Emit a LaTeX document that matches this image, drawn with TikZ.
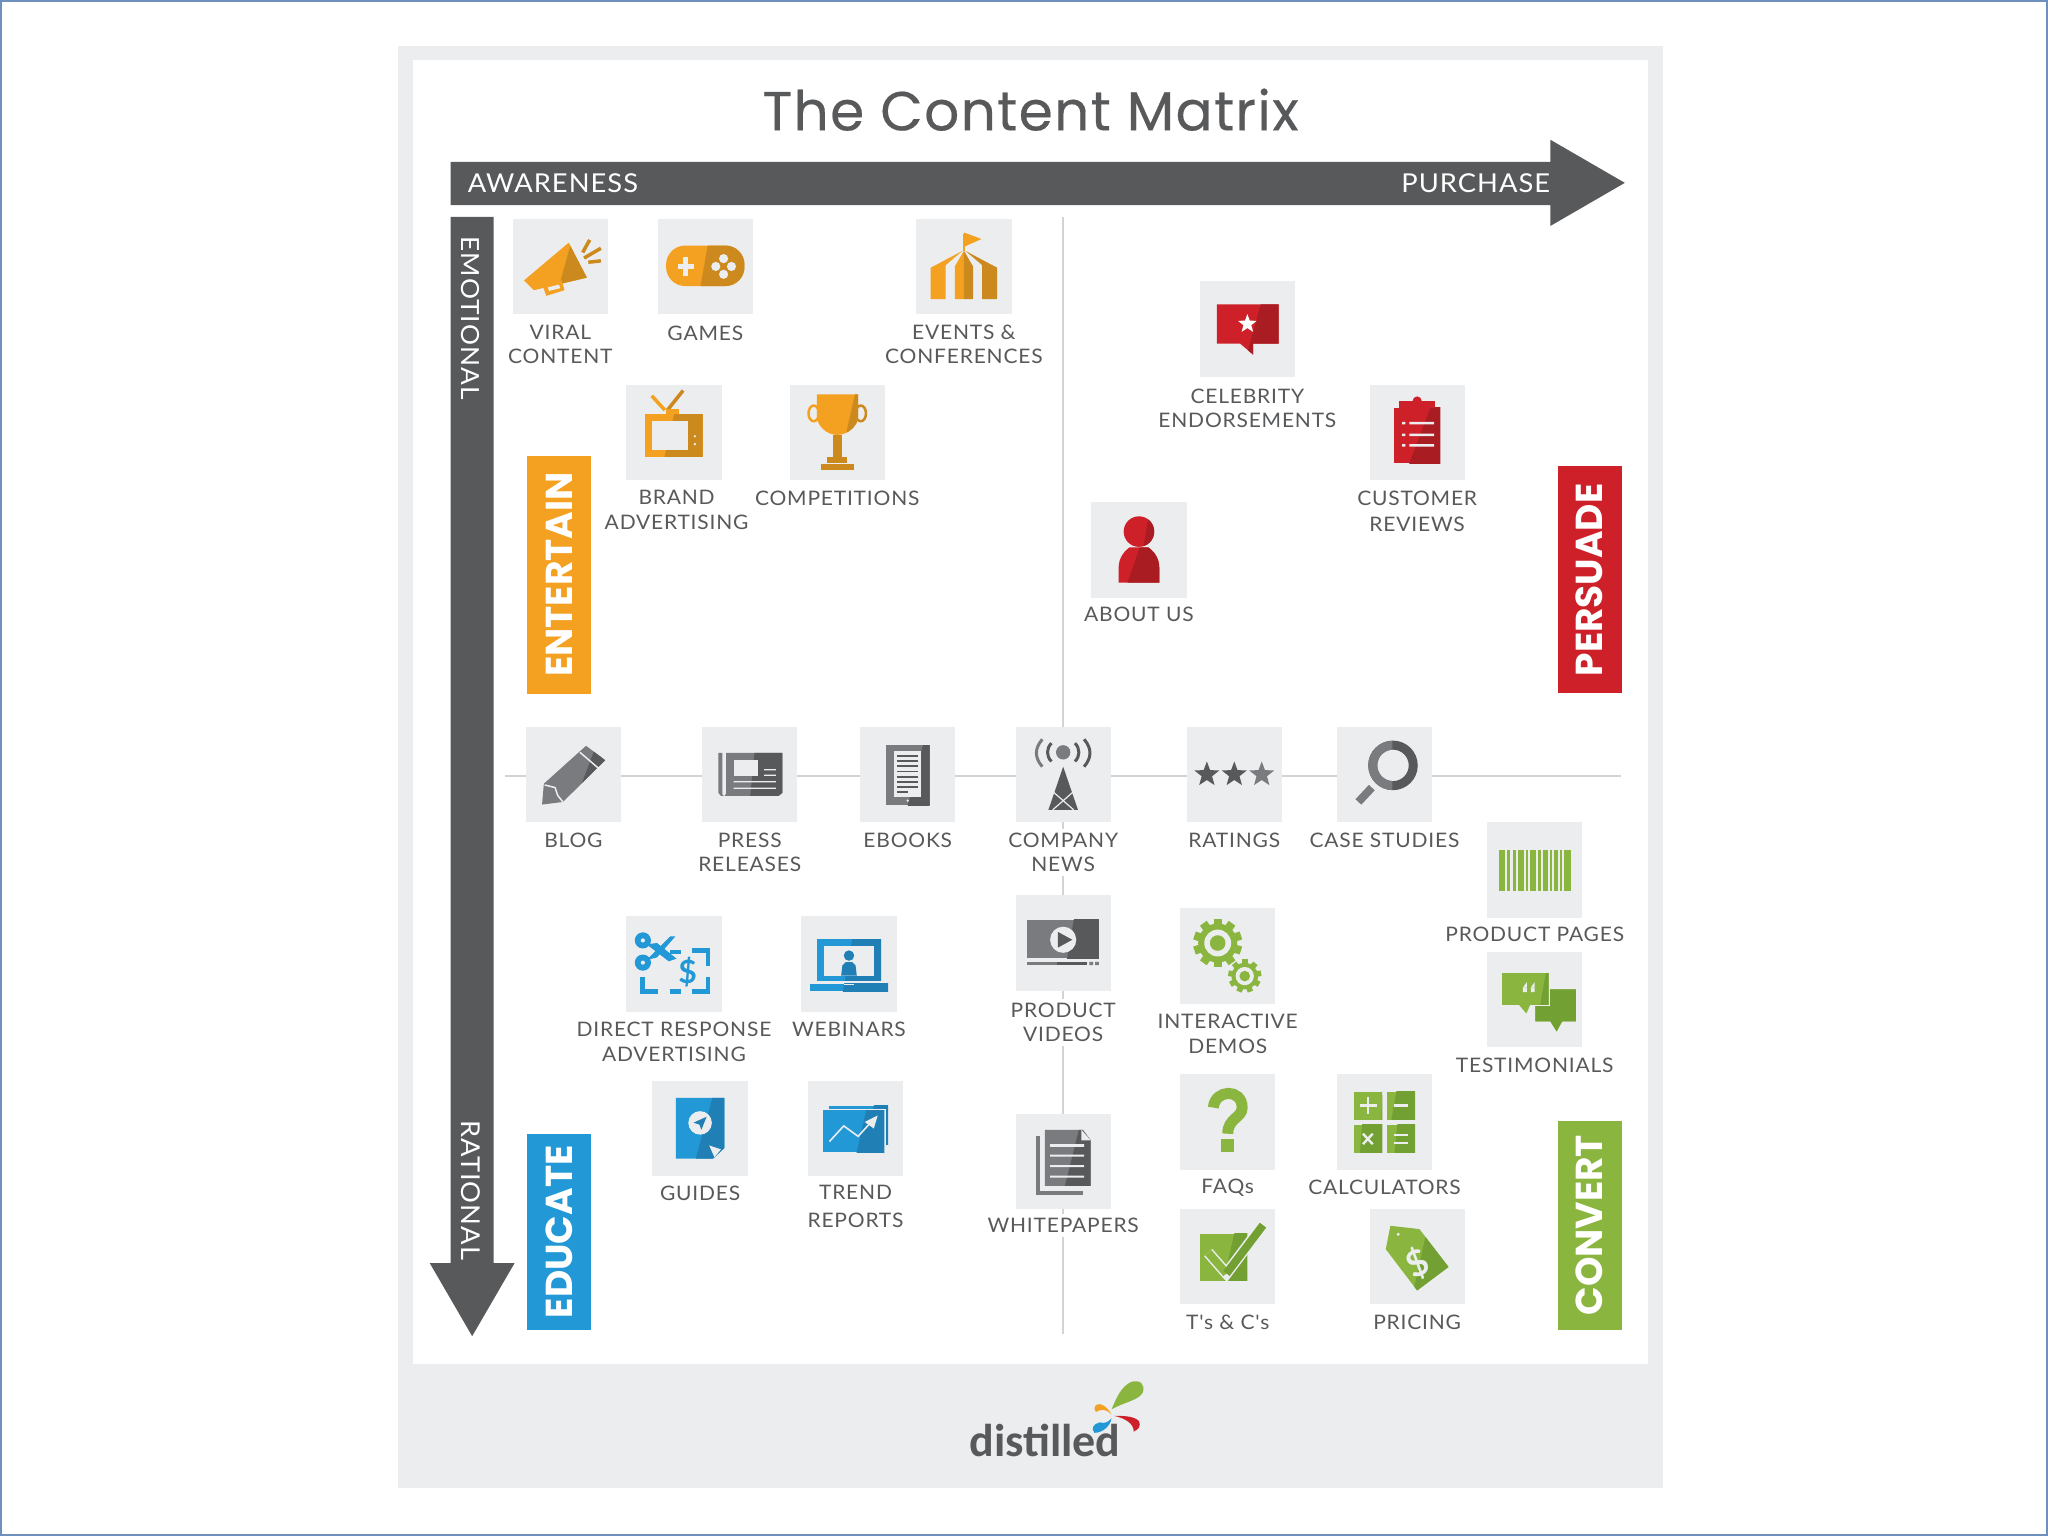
\documentclass[tikz,border=0pt]{standalone}
\usepackage{fontspec}
\setmainfont{Lato}
\newfontfamily\titlef{Poppins}[FakeBold=0.35,LetterSpace=2.5]
\newfontfamily\lblf{Lato}[FakeStretch=1.05,LetterSpace=4]
\newfontfamily\tabf{Poppins}
\newfontfamily\logof{Carlito}
\definecolor{ink}{HTML}{58595B}
\definecolor{panel}{HTML}{ECEDEF}
\definecolor{rulec}{HTML}{D1D3D4}
\definecolor{frame}{HTML}{6F90BE}
\definecolor{ob}{HTML}{F4A021}
\definecolor{od}{HTML}{CC8A1E}
\definecolor{rb}{HTML}{CE2029}
\definecolor{rd}{HTML}{A81C22}
\definecolor{bb}{HTML}{2299D6}
\definecolor{bd}{HTML}{2080B5}
\definecolor{gb}{HTML}{7A7B7E}
\definecolor{gd}{HTML}{58595B}
\definecolor{lb}{HTML}{8AB53E}
\definecolor{ld}{HTML}{73A032}
\tikzset{
  tilebox/.style={fill=panel,inner sep=0pt,minimum size=95.3pt},
  lbl/.style={anchor=north,inner sep=0pt,align=center,text=ink,font=\lblf\fontsize{20}{24.5}\selectfont},
  lblw/.style={lbl,fill=white,inner ysep=4pt,inner xsep=2pt,yshift=4pt},
  tabbox/.style={minimum height=64pt,inner sep=0pt,text=white,rotate=90,font=\tabf\bfseries\fontsize{37.5}{37.5}\selectfont},
  axistext/.style={text=white,inner sep=0pt,font=\lblf\fontsize{26}{26}\selectfont},
  axisline/.style={draw=rulec,line width=2pt},
}
\newcommand\duo[5]{\fill[#1] #5; \begin{scope}\clip #5; \fill[#2] (#3,-40) -- (40,-40) -- (40,40) -- (#4,40) -- cycle;\end{scope}}
\newcommand\tile[7]{%
  \node[tilebox] (t#1) at (#2,#3) {};
  \begin{scope}[shift={(#2,#3)}]#7\end{scope}
  \node[lbl] (l#1) at (#4,{#5-5.5}) {#6};}
\newcommand\tilew[7]{%
  \node[tilebox] (t#1) at (#2,#3) {};
  \begin{scope}[shift={(#2,#3)}]#7\end{scope}
  \node[lblw] (l#1) at (#4,{#5-5.5}) {#6};}
\newcommand\starp[4]{\fill[#4,shift={(#1,#2)}] (-90:#3) -- (-54:{.42*#3}) -- (-18:#3) -- (18:{.42*#3}) -- (54:#3) -- (90:{.42*#3}) -- (126:#3) -- (162:{.42*#3}) -- (198:#3) -- (234:{.42*#3}) -- cycle;}
\newcommand\cog[5]{% x y r teeth colour
  \foreach \a in {1,...,#4}{\fill[#5,shift={(#1,#2)},rotate={\a*360/#4}] ({-.17*#3},{-#3}) rectangle ({.17*#3},{-.7*#3});}
  \fill[#5] (#1,#2) circle ({.8*#3});
  \fill[panel] (#1,#2) circle ({.55*#3});
  \fill[#5] (#1,#2) circle ({.32*#3});}
% ---------- icons (units: reference px at 1568 wide, origin at the tile centre)
\newcommand\icoViral{\begin{scope}[scale=1.07]%
  \duo{ob}{od}{14}{-8}{(-26,10) -- (6,-17) -- (19,8) -- (-19,17) -- cycle}
  \fill[ob] (-13,13) -- (1,10) -- (3,17) -- (-10,21) -- cycle;
  \fill[panel] (-9,15) -- (-1,13) -- (0,15.5) -- (-8,17.5) -- cycle;
  \draw[od,line width=3.5pt] (21,-19) -- (16,-10) (29,-13) -- (17,-6) (29,-4) -- (20,-3);\end{scope}}
\newcommand\icoGames{%
  \duo{ob}{od}{6}{-8}{(-30,-16) [rounded corners=19pt] -- (30,-16) -- (30,15) -- (-30,15) -- cycle [sharp corners]}
  \draw[panel,line width=5pt] (-21,0) -- (-9,0) (-15,-7) -- (-15,7);
  \foreach \p/\q in {14/-6,14/6,8/0,20/0}{\fill[panel] (\p,\q) circle (3.5);}}
\newcommand\icoEvents{%
  \draw[ob,line width=1.5pt] (0,-25) -- (0,-12);
  \fill[ob] (0,-26) -- (13.5,-21) -- (0,-15) -- cycle;
  \fill[ob] (-25.5,25) -- (-25.5,1) -- (-1,-12) -- (-14,-1) -- (-14,25) -- cycle;
  \fill[ob] (-7,25) -- (-7,0) -- (0,-12) -- (0,25) -- cycle;
  \fill[od] (0,25) -- (0,-12) -- (7,0) -- (7,25) -- cycle;
  \fill[od] (14,25) -- (14,-1) -- (1,-12) -- (25.5,1) -- (25.5,25) -- cycle;}
\newcommand\icoTV{%
  \draw[ob,line width=3.5pt] (-17,-28) -- (-7,-17);
  \draw[od,line width=3.5pt] (7,-32) -- (-5,-17);
  \fill[ob] (-6,-18) rectangle (4,-14);
  \duo{ob}{od}{6}{-12}{(-22,-14) rectangle (22,18.6)}
  \fill[panel] (-16.8,-8.7) rectangle (10.6,13.5);
  \fill[panel] (16,3) circle (1) (16,9) circle (1);}
\newcommand\icoTrophy{%
  \draw[ob,line width=2.5pt] (-18,-14.5) ellipse (4 and 6);
  \draw[od,line width=2.5pt] (18,-14.5) ellipse (4 and 6);
  \duo{ob}{od}{16}{-2}{(-15.5,-29) -- (16,-29) -- (16,-12) .. controls (16,-5) and (8,2) .. (0,2) .. controls (-8,2) and (-15.5,-5) .. (-15.5,-12) -- cycle}
  \fill[od] (-3.5,2) rectangle (3.5,18.6);
  \fill[od] (-7.5,18.6) rectangle (7.5,23.7);
  \fill[od] (-12.5,24.5) rectangle (12.5,29);}
\newcommand\icoCeleb{%
  \duo{rb}{rd}{16}{-6}{(-23.4,-19) -- (24,-19) -- (24,11) -- (4.4,11) -- (4.4,19.5) -- (-5.6,11) -- (-23.4,11) -- cycle}
  \starp{0}{-4}{7.5}{white}}
\newcommand\icoCustomer{%
  \duo{rb}{rd}{18}{-12}{(-17.8,-19) rectangle (17.8,23.7)}
  \fill[rb] (-14,-24) rectangle (14,-19);
  \fill[rb] (0,-24) circle (3.5);
  \fill[panel] (-6,-8) rectangle (13,-6) (-6,1) rectangle (13,3) (-6,9) rectangle (13,11);
  \fill[panel] (-11.5,-8) rectangle (-9,-6) (-11.5,1) rectangle (-9,3) (-11.5,9) rectangle (-9,11);}
\newcommand\icoAbout{%
  \duo{rb}{rd}{10}{-4}{(0,-14) circle (11.7)}
  \duo{rb}{rd}{14}{-14}{(-15.6,25) -- (-15.6,14) .. controls (-15.6,5) and (-10,0) .. (-7,-2) -- (7,-2) .. controls (10,0) and (15.6,5) .. (15.6,14) -- (15.6,25) -- cycle}}
\newcommand\icoBlog{%
  \duo{gb}{gd}{24}{-6}{(9.7,-22) -- (24.3,-11) -- (-8,21) -- (-24,23) -- (-22.6,7) -- cycle}
  \draw[panel,line width=1.5pt] (5,-17) -- (19,-5);
  \draw[panel,line width=1.5pt] (-22,8) -- (-14,10) -- (-12,16) -- (-8,21);}
\newcommand\icoPress{%
  \fill[gb] (-24,-16.6) rectangle (-21,14) .. controls (-21,16) .. (-19,16.4) -- (-22,16.4) -- (-24,14) -- cycle;
  \duo{gb}{gd}{6}{-2}{(-18,-16.6) -- (25,-16.6) -- (25,14) -- (22,16.4) -- (-19,16.4) -- (-18,14) -- cycle}
  \fill[panel] (-12.3,-11.5) rectangle (6.7,1.3);
  \fill[panel] (11,-4.2) rectangle (20,-3.2) (11,0) rectangle (20,1);
  \fill[panel] (-12.3,5) rectangle (20,6) (-12.3,10) rectangle (20,11);}
\newcommand\icoEbook{%
  \duo{gb}{gd}{16}{-4}{(-16.8,-22.4) rectangle (16.8,23.5)}
  \fill[panel] (-10.5,-18) rectangle (10.5,17);
  \foreach \q in {-15,-11,-7,-3,1,5,9}{\fill[gd] (-8,\q) rectangle (8,{\q+1.3});}
  \fill[gd] (-8,12.5) rectangle (0,13.8);
  \fill[panel] (0,20) circle (1);}
\newcommand\icoCompany{%
  \fill[gb] (0,-17) circle (5.5);
  \draw[gd,line width=3pt] (-9,-24) .. controls (-13,-20) and (-13,-14) .. (-9,-10);
  \draw[gd,line width=3pt] (9,-24) .. controls (13,-20) and (13,-14) .. (9,-10);
  \draw[gb,line width=3pt] (-16,-27) .. controls (-22,-20) and (-22,-13) .. (-16,-6);
  \draw[gd,line width=3pt] (16,-27) .. controls (22,-20) and (22,-13) .. (16,-6);
  \fill[gd] (0,-6) -- (11.3,27) -- (-11.3,27) -- cycle;
  \draw[panel,line width=1.2pt] (-8,13) -- (8,27) (8,13) -- (-8,27);}
\newcommand\icoRatings{%
  \starp{-21}{0}{10}{gd}\starp{0}{0}{10}{gd}\starp{21}{0}{10}{gb}}
\newcommand\icoCase{%
  \draw[gd,line width=9pt] (6.5,-7) circle (15.5);
  \begin{scope}\clip (-30,-30) rectangle (6,14);\draw[gb,line width=9pt] (6.5,-7) circle (15.5);\end{scope}
  \draw[gb,line width=8pt] (-9.7,10) -- (-20,21);}
\newcommand\icoBar{%
  \foreach \p/\w in {-27.5/5,-21/2,-17/2.5,-12.5/4,-7/2,-3.5/4.5,2.5/2,6/4,11.5/2,15/3,19.5/1.5,22.5/5}{\fill[lb] (\p,-15.5) rectangle ({\p+\w},16);}}
\newcommand\icoDirect{%
  \fill[bb] (-23.8,-18) circle (6.2) (-23.8,-1) circle (6.2);
  \fill[panel] (-23.8,-18) circle (1.6) (-23.8,-1) circle (1.6);
  \fill[bb] (-21,-3) -- (-3,-21) -- (1,-21) -- (-13,-5) -- cycle;
  \fill[bb] (-21,-15) -- (-13,-16) -- (2,-4) -- (-4,-2) -- cycle;
  \draw[bb,line width=4.6pt] (-3,-9) -- (5.5,-9);
  \draw[bb,line width=4.6pt] (14,-10.5) -- (26,-10.5) -- (26,1.3);
  \draw[bb,line width=4.6pt] (26,10) -- (26,21) -- (14,21);
  \draw[bb,line width=4.6pt] (5.5,21) -- (-3,21);
  \draw[bb,line width=4.6pt] (-12,21) -- (-24,21) -- (-24,10);
  \node[text=bb,inner sep=0pt,font=\fontsize{32}{32}\selectfont\bfseries] (dlr) at (10.5,6.4) {\$};}
\newcommand\icoWebinar{%
  \duo{bb}{bd}{6}{-8}{(-24.6,-19) rectangle (24.6,12.8)}
  \fill[panel] (-19.4,-14) rectangle (19.4,9);
  \fill[bd] (0,-6.4) circle (4);
  \fill[bd] (-6,9) -- (-5,1) -- (-2.5,-1.3) -- (2.5,-1.3) -- (5,1) -- (6,9) -- cycle;
  \duo{bb}{bd}{6}{-8}{(-30,15) rectangle (30,21)}
  \fill[panel] (-3.5,15) rectangle (3.5,16.5);}
\newcommand\icoVideo{%
  \duo{gb}{gd}{12}{-2}{(-27.4,-18) rectangle (27.4,11.5)}
  \fill[gb] (-27.4,14.5) rectangle (-5,17);
  \fill[gd] (-5,14.5) rectangle (18,17);
  \fill[gb] (20,14.5) rectangle (23,17) (24.5,14.5) rectangle (27.4,17);
  \fill[panel] (0,-2.5) circle (10);
  \fill[gd] (-4,-8.5) -- (7,-2.5) -- (-4,3.5) -- cycle;}
\newcommand\icoGears{\cog{-7.7}{-10}{18.7}{10}{lb}\cog{13}{15.3}{12.7}{9}{lb}}
\newcommand\icoTesti{%
  \duo{lb}{ld}{2}{-14}{(0.6,-7.6) -- (31.6,-7.6) -- (31.6,17) -- (21,17) -- (16.8,24.7) -- (12,17) -- (0.6,17) -- cycle}
  \fill[panel] (-26,-21) rectangle (11.6,5.3);
  \fill[panel] (-12,5) -- (-6.4,12.5) -- (-3,5) -- cycle;
  \duo{lb}{ld}{12}{-2}{(-25,-20) -- (10.6,-20) -- (10.6,4.3) -- (-3.5,4.3) -- (-6.4,11) -- (-12,4.3) -- (-25,4.3) -- cycle}
  \fill[panel] (-9,-9) rectangle (-6,-5.5) (-3,-9) rectangle (0,-5.5);
  \fill[panel] (-9,-9) -- (-6,-13) -- (-6,-9) -- cycle (-3,-9) -- (0,-13) -- (0,-9) -- cycle;}
\newcommand\icoGuides{%
  \duo{bb}{bd}{14}{-8}{(-18.5,-23.5) -- (18.5,-23.5) -- (18.5,15) -- (10,23) -- (-18.5,23) -- cycle}
  \fill[panel] (0,-4.3) circle (9);
  \fill[bd] (5,-9) -- (1,1) -- (-0.5,-3) -- (-5,-4.5) -- cycle;
  \fill[panel] (7,13) -- (16,16) -- (11,22) -- cycle;}
\newcommand\icoTrend{%
  \duo{bb}{bd}{18}{4}{(-20,-17.6) rectangle (25,12.5)}
  \fill[panel] (-26,-15) rectangle (23,19);
  \duo{bb}{bd}{14}{-4}{(-25,-14) rectangle (22,18)}
  \draw[panel,line width=1.6pt] (-20,10) -- (-9,-2) -- (2,6) -- (12,-5);
  \fill[panel] (17,-10) -- (14,0) -- (7,-5) -- cycle;}
\newcommand\icoWhite{%
  \fill[gb] (-21,-19) rectangle (15,26);
  \fill[panel] (-17.5,-20) rectangle (16,22.5);
  \duo{gb}{gd}{16}{-4}{(-14,-24) -- (15,-24) -- (21,-16) -- (21,19) -- (-14,19) -- cycle}
  \fill[panel] (14,-24) -- (21,-16) -- (14,-16) -- cycle;
  \fill[panel] (-10,-13) rectangle (16,-11) (-10,-5) rectangle (16,-3.4) (-10,3) rectangle (16,4.6) (-10,11) rectangle (16,12.6);}
\newcommand\icoFaq{%
  \draw[lb,line width=11pt] (-11,-11) .. controls (-10,-25) and (11,-26) .. (11,-11) .. controls (11,-3) and (0,-3) .. (0,9);
  \fill[lb] (-5,13) rectangle (5,23);}
\newcommand\icoCalc{%
  \duo{lb}{ld}{-1}{-4}{(-23.4,-23) rectangle (-1.7,-1.8)}
  \duo{lb}{ld}{12}{-2}{(1.7,-23) rectangle (23.4,-1.8)}
  \duo{lb}{ld}{-14}{-20}{(-23.4,2) rectangle (-1.7,23.4)}
  \duo{lb}{ld}{14}{6}{(1.7,2) rectangle (23.4,23.4)}
  \draw[panel,line width=2.4pt] (-19,-12.5) -- (-6,-12.5) (-12.5,-19) -- (-12.5,-6);
  \draw[panel,line width=2.4pt] (7,-12.5) -- (18,-12.5);
  \draw[panel,line width=2.4pt] (-16.5,9) -- (-9,17) (-9,9) -- (-16.5,17);
  \draw[panel,line width=2.4pt] (7,10) -- (18,10) (7,16) -- (18,16);}
\newcommand\icoTC{%
  \duo{lb}{ld}{10}{-8}{(-21,-17.6) rectangle (15,18.6)}
  \draw[panel,line width=11pt] (-15,-3) -- (-1,13) -- (26,-23);
  \draw[lb,line width=8pt] (-15,-3) -- (-1,13);
  \draw[ld,line width=8pt] (-1,13) -- (27,-24);}
\newcommand\icoPrice{%
  \duo{lb}{ld}{12}{-6}{(-20.5,-23.5) -- (1.7,-21) -- (24,8) -- (0,26) -- (-24,-5.6) -- cycle}
  \fill[panel] (-14.5,-17) circle (1.3);
  \node[text=panel,inner sep=0pt,rotate=25,font=\bfseries\fontsize{36}{36}\selectfont] (dlr2) at (0,5) {\$};}
\begin{document}
\begin{tikzpicture}[x=1.30612pt,y=-1.30612pt]
\useasboundingbox (0,0) rectangle (1568,1176);
\fill[white] (0,0) rectangle (1568,1176);
\draw[frame,line width=2pt] (0.7,0.7) rectangle (1567.3,1175.3);
\fill[panel] (305,35) rectangle (1273,1139);
\fill[white] (316,46) rectangle (1262,1044);
\node[text=ink,inner sep=0pt,font=\titlef\fontsize{55}{55}\selectfont] (title) at (789,84) {The Content Matrix};
% axes
\coordinate (hL) at (387,594); \coordinate (hR) at (1241,594);
\coordinate (vT) at (813.5,166); \coordinate (vB) at (813.5,1021);
\draw[axisline] (hL) -- (hR);
\draw[axisline] (vT) -- (vB);
\fill[ink] (345,124) -- (1187,124) -- (1187,107) -- (1244,140) -- (1187,173) -- (1187,157) -- (345,157) -- cycle;
\fill[ink] (345,166) -- (378,166) -- (378,967) -- (394,967) -- (361.5,1023) -- (329,967) -- (345,967) -- cycle;
\node[axistext,anchor=west] (awareness) at (358,140) {AWARENESS};
\node[axistext,anchor=east] (purchase) at (1187,140) {PURCHASE};
\node[axistext,anchor=west,rotate=-90,font=\lblf\fontsize{25}{25}\selectfont] (emotional) at (360.5,181) {EMOTIONAL};
\node[axistext,anchor=east,rotate=-90] (rational) at (360.5,965) {RATIONAL};
% tabs
\node[tabbox,fill=ob,minimum width=238pt] (entertain) at (428,440) {ENTERTAIN\hspace{8pt}};
\node[tabbox,fill=rb,minimum width=227pt] (persuade) at (1217,444) {PERSUADE\hspace{6.5pt}};
\node[tabbox,fill=bb,minimum width=196pt] (educate) at (428,943) {EDUCATE\hspace{5pt}};
\node[tabbox,fill=lb,minimum width=209pt] (convert) at (1217,938) {CONVERT\hspace{9pt}};
% tiles
\tile{viral}{429}{204}{429}{254}{VIRAL\\CONTENT}{\icoViral}
\tile{games}{540}{204}{540}{255}{GAMES}{\icoGames}
\tile{events}{738}{204}{738}{254}{EVENTS \&\\CONFERENCES}{\icoEvents}
\tile{brand}{516}{331}{518}{381}{BRAND\\ADVERTISING}{\icoTV}
\tile{compet}{641}{331}{641}{381}{COMPETITIONS}{\icoTrophy}
\tile{celeb}{955}{252}{955}{303}{CELEBRITY\\ENDORSEMENTS}{\icoCeleb}
\tile{cust}{1085}{331}{1085}{381}{CUSTOMER\\[2pt]REVIEWS}{\icoCustomer}
\tile{about}{872}{421}{872}{470}{ABOUT US}{\icoAbout}
\tile{blog}{439}{593}{439}{643}{BLOG}{\icoBlog}
\tile{press}{574}{593}{574}{643}{PRESS\\RELEASES}{\icoPress}
\tile{ebooks}{695}{593}{695}{643}{EBOOKS}{\icoEbook}
\tilew{company}{814}{593}{814}{643}{COMPANY\\NEWS}{\icoCompany}
\tile{ratings}{945}{593}{945}{643}{RATINGS}{\icoRatings}
\tile{case}{1060}{593}{1060}{643}{CASE STUDIES}{\icoCase}
\tile{ppages}{1175}{666}{1175}{715}{PRODUCT PAGES}{\icoBar}
\tile{direct}{516}{738}{516}{788}{DIRECT RESPONSE\\ADVERTISING}{\icoDirect}
\tile{webinars}{650}{738}{650}{788}{WEBINARS}{\icoWebinar}
\tilew{pvideos}{814}{722}{814}{773}{PRODUCT\\VIDEOS}{\icoVideo}
\tile{demos}{940}{732}{940}{782}{INTERACTIVE\\DEMOS}{\icoGears}
\tile{testi}{1175}{765}{1175}{815}{TESTIMONIALS}{\icoTesti}
\tile{guides}{536}{864}{536}{913}{GUIDES}{\icoGuides}
\tile{trend}{655}{864}{655}{913}{TREND\\[3pt]REPORTS}{\icoTrend}
\tilew{white}{814}{889}{814}{938}{WHITEPAPERS}{\icoWhite}
\tile{faqs}{940}{859}{940}{908}{FAQs}{\icoFaq}
\tile{calc}{1060}{859}{1060}{909}{CALCULATORS}{\icoCalc}
\tile{tc}{940}{962}{940}{1012}{T's \& C's}{\icoTC}
\tile{pricing}{1085}{962}{1085}{1012}{PRICING}{\icoPrice}
% logo
\node[text=ink,inner sep=0pt,anchor=base west,font=\logof\bfseries\fontsize{46}{46}\selectfont] (logo) at (742,1115) {distilled};
\fill[lb] (851,1079) .. controls (855,1070) and (858,1062) .. (866,1058) .. controls (873,1056) and (877,1060) .. (875,1066) .. controls (872,1072) and (862,1073) .. (851,1079) -- cycle;
\fill[ob] (851,1083) .. controls (846,1078) and (843,1079) .. (839,1081) .. controls (837,1078) and (838,1075) .. (842,1075) .. controls (846,1076) and (849,1079) .. (851,1083) -- cycle;
\fill[rb] (853,1084) .. controls (860,1084) and (868,1084) .. (872,1088) .. controls (874,1092) and (871,1095) .. (868,1096) .. controls (868,1090) and (862,1086) .. (853,1084) -- cycle;
\fill[bb] (851,1086) .. controls (848,1089) and (846,1090) .. (842,1089) .. controls (837,1090) and (835,1094) .. (838,1097) .. controls (844,1097) and (850,1092) .. (851,1086) -- cycle;
\end{tikzpicture}
\end{document}
